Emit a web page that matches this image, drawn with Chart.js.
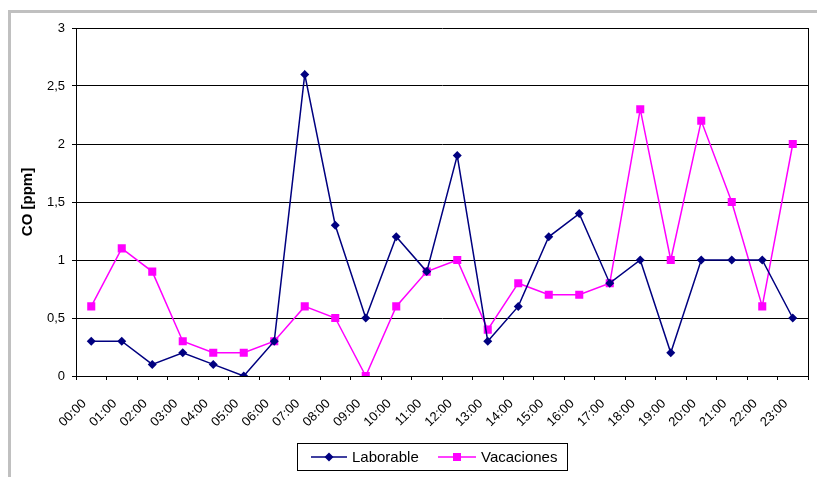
<!DOCTYPE html>
<html lang="es">
<head>
    <meta charset="UTF-8">
    <title>CO [ppm]</title>
    <script src="https://cdn.jsdelivr.net/npm/chart.js"></script>
    <style>
        html, body { margin: 0; padding: 0; background: #fff; }
        #wrap { position: relative; width: 817px; height: 477px; overflow: hidden; }
        #frameTop { position: absolute; left: 8px; top: 10px; width: 809px; height: 3px; background: #c0c0c0; }
        #frameLeft { position: absolute; left: 8px; top: 10px; width: 3px; height: 467px; background: #c0c0c0; }
        #chartBox { position: absolute; left: 0; top: 0; width: 817px; height: 477px; }
    </style>
</head>
<body>
<div id="wrap">
    <div id="frameTop"></div>
    <div id="frameLeft"></div>
    <div id="chartBox"><canvas id="coChart"></canvas></div>
</div>
<script>
    const hours = ['00:00', '01:00', '02:00', '03:00', '04:00', '05:00', '06:00', '07:00',
        '08:00', '09:00', '10:00', '11:00', '12:00', '13:00', '14:00', '15:00',
        '16:00', '17:00', '18:00', '19:00', '20:00', '21:00', '22:00', '23:00'];
    const laborable = [0.3, 0.3, 0.1, 0.2, 0.1, 0, 0.3, 2.6, 1.3, 0.5, 1.2, 0.9,
        1.9, 0.3, 0.6, 1.2, 1.4, 0.8, 1.0, 0.2, 1.0, 1.0, 1.0, 0.5];
    const vacaciones = [0.6, 1.1, 0.9, 0.3, 0.2, 0.2, 0.3, 0.6, 0.5, 0, 0.6, 0.9,
        1.0, 0.4, 0.8, 0.7, 0.7, 0.8, 2.3, 1.0, 2.2, 1.5, 0.6, 2.0];

    const FONT = '"Liberation Sans", Arial, sans-serif';
    const NAVY = '#000080';
    const MAGENTA = '#ff00ff';

    // right border of the plot area + boxed legend like the Excel original
    const excelFrame = {
        id: 'excelFrame',
        afterDraw(chart) {
            const ctx = chart.ctx;
            const a = chart.chartArea;
            ctx.save();
            ctx.strokeStyle = '#000';
            ctx.lineWidth = 1;
            ctx.beginPath();
            ctx.moveTo(Math.round(a.right) + 0.5, a.top);
            ctx.lineTo(Math.round(a.right) + 0.5, a.bottom);
            ctx.stroke();

            // legend
            const bx = 297.5, by = 443.5, bw = 270, bh = 27;
            ctx.strokeRect(bx, by, bw, bh);
            const cy = by + bh / 2;
            const items = [
                { x: 311, w: 36, ds: chart.data.datasets[0] },
                { x: 438, w: 38, ds: chart.data.datasets[1] }
            ];
            ctx.font = '15px ' + FONT;
            ctx.textBaseline = 'middle';
            items.forEach(it => {
                const ds = it.ds;
                ctx.strokeStyle = ds.borderColor;
                ctx.lineWidth = ds.borderWidth;
                ctx.beginPath();
                ctx.moveTo(it.x, cy);
                ctx.lineTo(it.x + it.w, cy);
                ctx.stroke();
                ctx.fillStyle = ds.pointBackgroundColor;
                ctx.strokeStyle = ds.pointBorderColor;
                Chart.helpers.drawPoint(ctx, {
                    pointStyle: ds.pointStyle,
                    radius: ds.pointRadius,
                    rotation: 0,
                    borderWidth: 0
                }, it.x + it.w / 2, cy);
                ctx.fillStyle = '#000';
                ctx.fillText(ds.label, it.x + it.w + 5, cy + 1);
            });
            ctx.restore();
        }
    };

    new Chart(document.getElementById('coChart'), {
        type: 'line',
        data: {
            labels: hours,
            datasets: [
                {
                    label: 'Laborable',
                    data: laborable,
                    borderColor: NAVY,
                    backgroundColor: NAVY,
                    pointBackgroundColor: NAVY,
                    pointBorderColor: NAVY,
                    borderWidth: 1.5,
                    pointStyle: 'rectRot',
                    pointRadius: 4.5,
                    pointBorderWidth: 0,
                    tension: 0
                },
                {
                    label: 'Vacaciones',
                    data: vacaciones,
                    borderColor: MAGENTA,
                    backgroundColor: MAGENTA,
                    pointBackgroundColor: MAGENTA,
                    pointBorderColor: MAGENTA,
                    borderWidth: 1.5,
                    pointStyle: 'rect',
                    pointRadius: 5.7,
                    pointBorderWidth: 0,
                    tension: 0
                }
            ]
        },
        options: {
            responsive: true,
            maintainAspectRatio: false,
            animation: false,
            layout: { padding: { top: 28, right: 9, bottom: 41, left: 0 } },
            scales: {
                x: {
                    offset: true,
                    grid: {
                        offset: true,
                        drawOnChartArea: false,
                        drawTicks: true,
                        tickLength: 4,
                        color: '#000'
                    },
                    border: { color: '#000', width: 1 },
                    ticks: {
                        color: '#000',
                        font: { family: FONT, size: 13 },
                        minRotation: 45,
                        maxRotation: 45,
                        autoSkip: false,
                        padding: 16,
                        labelOffset: -7
                    },
                    afterFit(scale) {
                        scale.height = 60;
                        scale.paddingLeft = 0;
                        scale.paddingRight = 0;
                    }
                },
                y: {
                    min: 0,
                    max: 3,
                    grid: {
                        color: '#000',
                        tickLength: 4
                    },
                    border: { color: '#000', width: 1 },
                    ticks: {
                        stepSize: 0.5,
                        color: '#000',
                        padding: 7,
                        font: { family: FONT, size: 13 },
                        callback: v => String(v).replace('.', ',')
                    },
                    title: {
                        display: true,
                        text: 'CO [ppm]',
                        color: '#000',
                        font: { family: FONT, size: 15, weight: 'bold' },
                        padding: { top: 19, bottom: 0 }
                    },
                    afterFit(scale) { scale.width = 76; }
                }
            },
            plugins: {
                legend: { display: false },
                tooltip: { enabled: false }
            }
        },
        plugins: [excelFrame]
    });
</script>
</body>
</html>
